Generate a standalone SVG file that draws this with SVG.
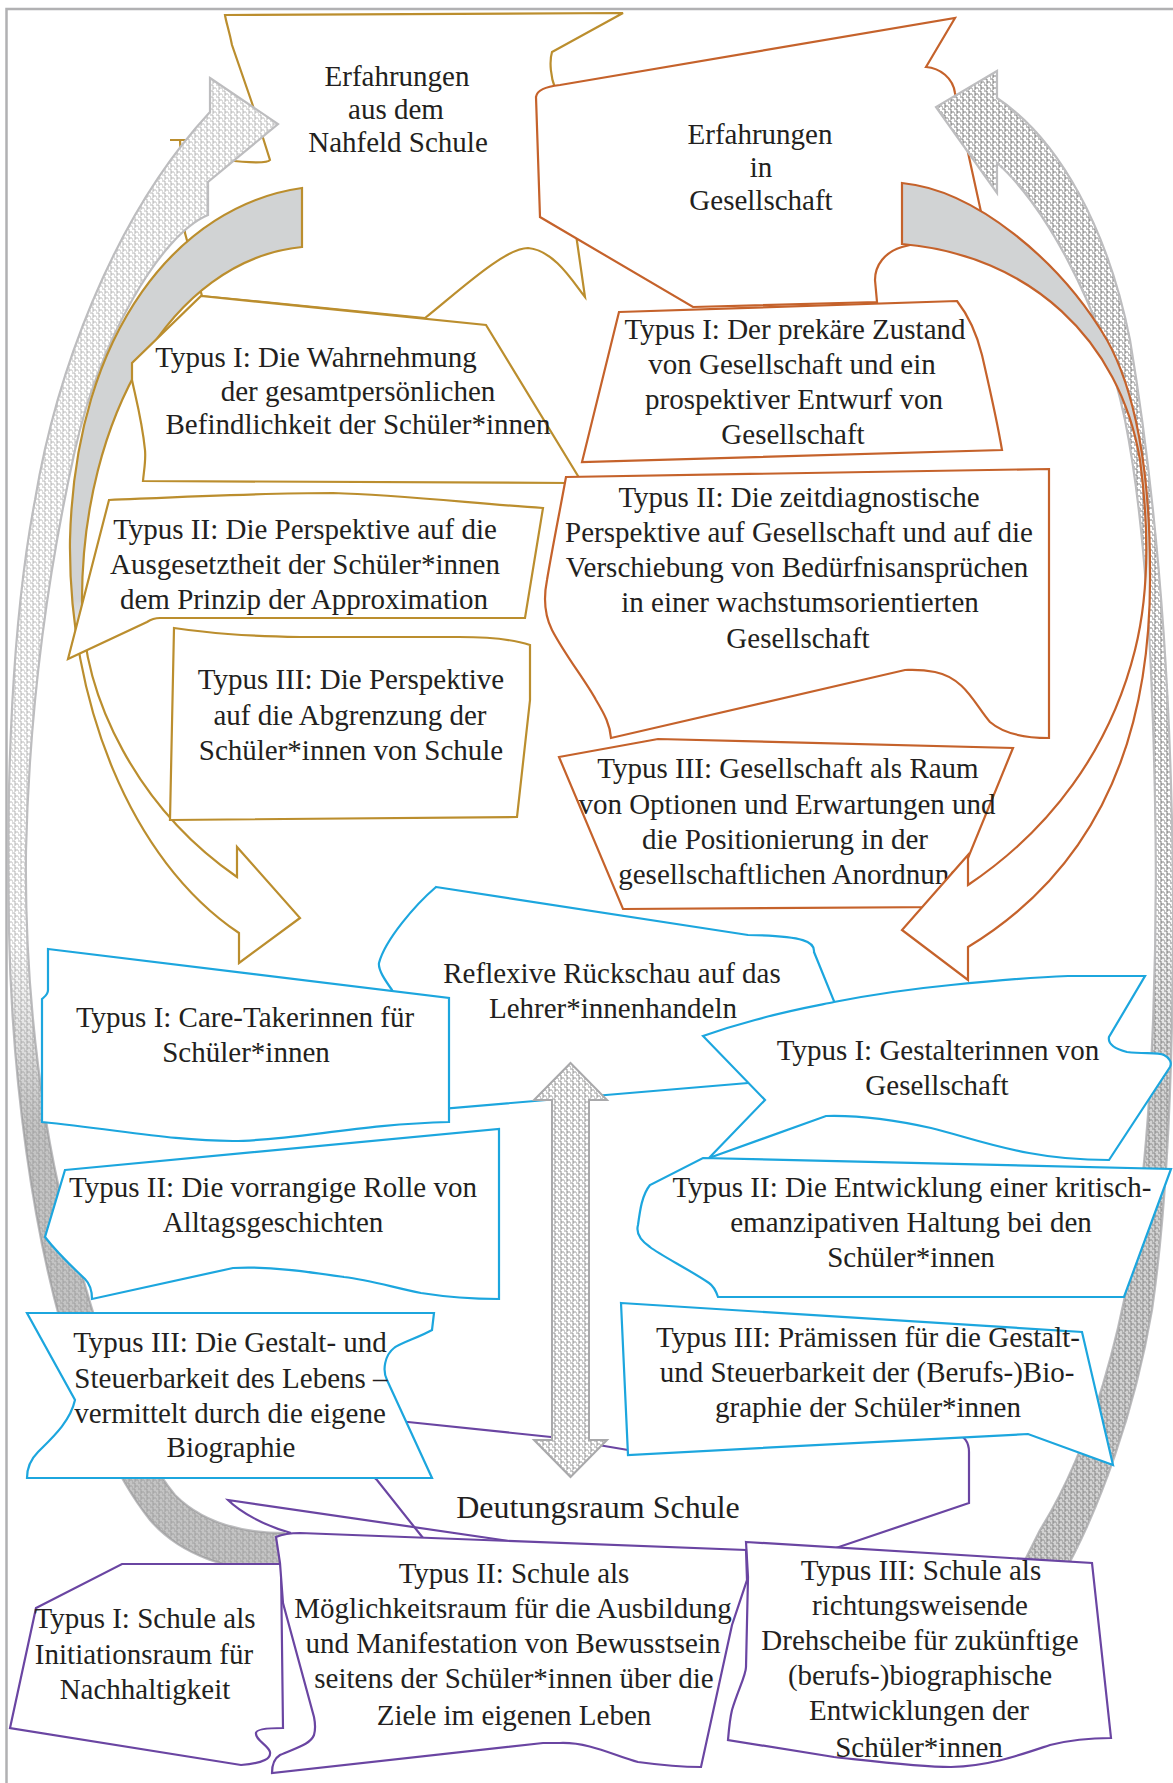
<svg xmlns="http://www.w3.org/2000/svg" width="1173" height="1783" viewBox="0 0 1173 1783">
<style>
.t{font-family:"Liberation Serif","Times New Roman",serif;font-size:29px;fill:#231f20;text-anchor:middle}
.big{font-size:32px}
.gold{fill:#fff;stroke:#bb8e2e;stroke-width:2.2;stroke-linejoin:miter}
.orange{fill:#fff;stroke:#c5622b;stroke-width:2.2}
.blue{fill:#fff;stroke:#1ca6de;stroke-width:2.2}
.purple{fill:#fff;stroke:#6a45a2;stroke-width:2.2}
.pat{stroke:#bdbdbf;stroke-width:2.2}
</style>
<defs>
<pattern id="patL" width="6" height="6" patternUnits="userSpaceOnUse"><rect width="6" height="6" fill="#fff"/><path d="M0,1H3V4H6M0,4V6M3,4V6" stroke="#b0b0b0" stroke-width="0.9" fill="none"/></pattern>
<pattern id="patR" width="6" height="6" patternUnits="userSpaceOnUse"><rect width="6" height="6" fill="#fff"/><path d="M0,1H3V4H6M0,4V6M3,4V6" stroke="#6e6e6e" stroke-width="0.9" fill="none"/></pattern>
<pattern id="patC" width="6" height="6" patternUnits="userSpaceOnUse"><rect width="6" height="6" fill="#fff"/><path d="M0,1H3V4H6M0,4V6M3,4V6" stroke="#8a8a8a" stroke-width="0.9" fill="none"/></pattern>
<linearGradient id="shL" gradientUnits="userSpaceOnUse" x1="0" y1="78" x2="0" y2="1575"><stop offset="0" stop-color="#888" stop-opacity="0"/><stop offset="0.58" stop-color="#888" stop-opacity="0"/><stop offset="0.7" stop-color="#888" stop-opacity="0.5"/><stop offset="1" stop-color="#888" stop-opacity="0.5"/></linearGradient>
<linearGradient id="shR" gradientUnits="userSpaceOnUse" x1="0" y1="71" x2="0" y2="1580"><stop offset="0" stop-color="#999" stop-opacity="0"/><stop offset="0.55" stop-color="#999" stop-opacity="0"/><stop offset="0.68" stop-color="#999" stop-opacity="0.45"/><stop offset="1" stop-color="#999" stop-opacity="0.45"/></linearGradient>
<linearGradient id="gG" gradientUnits="userSpaceOnUse" x1="0" y1="188" x2="0" y2="963"><stop offset="0" stop-color="#d1d3d4"/><stop offset="0.53" stop-color="#d1d3d4"/><stop offset="0.6" stop-color="#fff"/></linearGradient>
<linearGradient id="gO" gradientUnits="userSpaceOnUse" x1="0" y1="183" x2="0" y2="980"><stop offset="0" stop-color="#d1d3d4"/><stop offset="0.45" stop-color="#d1d3d4"/><stop offset="0.52" stop-color="#fff"/></linearGradient>
</defs>
<rect width="1173" height="1783" fill="#fff"/>
<rect id="frame" x="6.5" y="9" width="1200" height="1800" fill="none" stroke="#b1b1b3" stroke-width="2.5"/>

<g id="node-nahfeld">
<path class="gold" d="M225,15 L623,13 L552,52 C549,62 551,78 555,88 L585,297 C575,285 555,250 528,248 C505,248 460,290 425,318 L202,296 L185,233 L180,140 L170,140 L200,140 L225,160 C250,163 268,163 270,160 L252,103 L232,45 C229,30 226,22 225,15 Z"/>
<text class="t" x="397" y="86">Erfahrungen</text>
<text class="t" x="396" y="119">aus dem</text>
<text class="t" x="398" y="152">Nahfeld Schule</text>
</g>
<g id="node-gesellschaft">
<path class="orange" d="M536,97 C537,90 545,87 560,85 L955,18 L926,67 C940,68 953,78 955,93 L985,230 L930,240 L902,247 C885,252 875,265 875,280 L877,302 L693,307 L540,217 Z"/>
<text class="t" x="760" y="144">Erfahrungen</text>
<text class="t" x="761" y="177">in</text>
<text class="t" x="761" y="210">Gesellschaft</text>
</g>
<g id="node-o3">
<path class="orange" d="M559,757 L658,739 L1013,748 L948,907 L623,909 Z"/>
<text class="t" x="788" y="778">Typus III: Gesellschaft als Raum</text>
<text class="t" x="787" y="814">von Optionen und Erwartungen und</text>
<text class="t" x="785" y="849">die Positionierung in der</text>
<text class="t" x="791" y="884">gesellschaftlichen Anordnung</text>
</g>
<g id="node-deutungsraum">
<path class="purple" d="M300,1415 L408,1422 L551,1437 L628,1450 L955,1434 C964,1435 969,1442 969,1452 L969,1503 L830,1550 L600,1560 L423,1545 L423,1538 L377,1480 Z"/>
<path d="M291,1533 C265,1526 240,1512 228,1500 L509,1541" fill="none" stroke="#6a45a2" stroke-width="2.2"/>
<text class="t big" x="598" y="1518">Deutungsraum Schule</text>
</g>
<g id="node-b0">
<path class="blue" d="M436,887 L748,935 C805,936 815,942 814,952 L836,1006 L850,1050 L760,1082 L440,1109 L400,1050 L392,990 C385,980 378,970 379,963 C385,940 415,905 436,887 Z"/>
<text class="t" x="612" y="983">Reflexive Rückschau auf das</text>
<text class="t" x="613" y="1018">Lehrer*innenhandeln</text>
</g>

<g id="connectors">
<path fill="url(#patL)" class="pat" d="M210,78 L278,124 L208,182 L208,215 C160,235 100,340 75,450 C55,540 30,680 26,850 C24,1000 45,1150 75,1250 C100,1340 130,1440 175,1495 C205,1525 245,1533 285,1533 L285,1572 C230,1572 180,1555 150,1520 C110,1470 80,1390 60,1320 C35,1230 12,1090 9,930 C6,780 12,620 35,500 C55,380 110,220 210,112 Z"/>
<path fill="url(#shL)" d="M210,78 L278,124 L208,182 L208,215 C160,235 100,340 75,450 C55,540 30,680 26,850 C24,1000 45,1150 75,1250 C100,1340 130,1440 175,1495 C205,1525 245,1533 285,1533 L285,1572 C230,1572 180,1555 150,1520 C110,1470 80,1390 60,1320 C35,1230 12,1090 9,930 C6,780 12,620 35,500 C55,380 110,220 210,112 Z"/>
<path fill="url(#patR)" class="pat" d="M997,71 L936,107 L997,193 L997,163 C1040,200 1100,300 1125,420 C1145,520 1152,650 1155,800 C1158,950 1152,1100 1140,1200 C1125,1330 1090,1450 1040,1530 L1015,1580 L1060,1580 C1100,1510 1135,1410 1152,1310 C1168,1200 1173,1060 1173,920 C1173,720 1160,520 1130,340 C1108,230 1060,140 997,98 Z"/>
<path fill="url(#shR)" d="M997,71 L936,107 L997,193 L997,163 C1040,200 1100,300 1125,420 C1145,520 1152,650 1155,800 C1158,950 1152,1100 1140,1200 C1125,1330 1090,1450 1040,1530 L1015,1580 L1060,1580 C1100,1510 1135,1410 1152,1310 C1168,1200 1173,1060 1173,920 C1173,720 1160,520 1130,340 C1108,230 1060,140 997,98 Z"/>
<path fill="url(#gG)" stroke="#bb8e2e" stroke-width="2.2" d="M302,188 C180,205 75,330 70,540 C68,700 130,860 239,933 L239,963 L300,918 L237,847 L237,877 C140,810 82,700 82,600 C82,420 170,260 302,247 Z"/>
<path fill="url(#gO)" stroke="#c5622b" stroke-width="2.2" d="M902,183 C975,190 1060,260 1107,340 C1135,390 1150,470 1150,570 C1152,740 1095,870 968,947 L968,980 L902,930 L968,855 L968,885 C1050,830 1110,750 1135,650 C1150,590 1148,520 1140,460 C1120,340 1030,255 902,244 Z"/>
<path fill="url(#patC)" stroke="#a9a9ab" stroke-width="2" d="M570.5,1063 L607,1100 L589,1100 L589,1440 L607,1440 L570.5,1477 L534,1440 L552,1440 L552,1100 L534,1100 Z"/>
</g>

<g id="node-g1">
<path class="gold" d="M201,296 L486,325 L578,476 L570,483 L143,481 C144,470 146,460 145,450 C142,420 135,395 132,380 L132,363 Z"/>
<text class="t" x="316" y="367">Typus I: Die Wahrnehmung</text>
<text class="t" x="358" y="401">der gesamtpersönlichen</text>
<text class="t" x="358" y="434">Befindlichkeit der Schüler*innen</text>
</g>
<g id="node-g2">
<path class="gold" d="M109,500 C180,497 260,493 333,493 C400,495 470,503 543,508 L525,618 L160,618 C155,618 150,620 147,622 L68,659 Z"/>
<text class="t" x="305" y="539">Typus II: Die Perspektive auf die</text>
<text class="t" x="305" y="574">Ausgesetztheit der Schüler*innen</text>
<text class="t" x="304" y="609">dem Prinzip der Approximation</text>
</g>
<g id="node-g3">
<path class="gold" d="M174,628 C210,633 240,636 300,637 L459,637 C490,637 515,640 530,645 L530,700 L517,817 L170,820 Z"/>
<text class="t" x="351" y="689">Typus III: Die Perspektive</text>
<text class="t" x="350" y="725">auf die Abgrenzung der</text>
<text class="t" x="351" y="760">Schüler*innen von Schule</text>
</g>
<g id="node-o1">
<path class="orange" d="M619,312 L957,301 C968,315 977,335 982,355 C990,390 997,420 1002,450 L582,462 Z"/>
<text class="t" x="795" y="339">Typus I: Der prekäre Zustand</text>
<text class="t" x="792" y="374">von Gesellschaft und ein</text>
<text class="t" x="794" y="409">prospektiver Entwurf von</text>
<text class="t" x="793" y="444">Gesellschaft</text>
</g>
<g id="node-o2">
<path class="orange" d="M566,477 L1049,469 L1049,738 C1030,738 1005,735 990,722 C975,705 965,678 935,672 C920,669 910,670 905,670 L611,738 C610,725 605,715 596,700 C585,680 565,655 552,630 C543,612 544,595 547,580 C552,550 560,510 566,477 Z"/>
<text class="t" x="799" y="507">Typus II: Die zeitdiagnostische</text>
<text class="t" x="799" y="542">Perspektive auf Gesellschaft und auf die</text>
<text class="t" x="797" y="577">Verschiebung von Bedürfnisansprüchen</text>
<text class="t" x="800" y="612">in einer wachstumsorientierten</text>
<text class="t" x="798" y="648">Gesellschaft</text>
</g>
<g id="node-b1">
<path class="blue" d="M48,949 L449,998 L449,1122 C360,1124 290,1141 233,1141 C175,1141 120,1130 42,1122 L42,999 C44,997 48,995 48,990 Z"/>
<text class="t" x="245" y="1027">Typus I: Care-Takerinnen für</text>
<text class="t" x="246" y="1062">Schüler*innen</text>
</g>
<g id="node-b2">
<path class="blue" d="M65,1170 L499,1129 L499,1299 C470,1299 440,1296 421,1293 C395,1288 370,1280 344,1277 C310,1272 270,1266 233,1268 L92,1299 C92,1290 90,1284 85,1279 C70,1265 55,1250 45,1237 Z"/>
<text class="t" x="273" y="1197">Typus II: Die vorrangige Rolle von</text>
<text class="t" x="273" y="1232">Alltagsgeschichten</text>
</g>
<g id="node-b3">
<path class="blue" d="M27,1313 L434,1313 L432,1330 C420,1337 400,1343 394,1348 C385,1355 382,1370 387,1380 L432,1478 L27,1478 C27,1468 30,1460 38,1452 C52,1438 70,1422 75,1400 Z"/>
<text class="t" x="230" y="1352">Typus III: Die Gestalt- und</text>
<text class="t" x="231" y="1388">Steuerbarkeit des Lebens –</text>
<text class="t" x="230" y="1423">vermittelt durch die eigene</text>
<text class="t" x="231" y="1457">Biographie</text>
</g>
<g id="node-br1">
<path class="blue" d="M703,1036 C720,1030 740,1024 755,1020 C790,1010 820,1005 834,1002 C880,993 920,988 951,985 C1000,980 1040,977 1068,976 L1145,976 L1109,1037 C1108,1042 1112,1048 1127,1052 C1145,1054 1158,1052 1164,1055 C1170,1058 1172,1063 1170,1067 L1109,1160 C1080,1160 1050,1157 1029,1153 C990,1146 960,1135 931,1128 C895,1120 860,1115 826,1116 L709,1158 L765,1100 Z"/>
<text class="t" x="938" y="1060">Typus I: Gestalterinnen von</text>
<text class="t" x="937" y="1095">Gesellschaft</text>
</g>
<g id="node-br2">
<path class="blue" d="M703,1158 L1171,1169 L1124,1297 L718,1297 C715,1288 712,1285 709,1283 C690,1270 660,1255 650,1247 C640,1240 636,1232 638,1225 C640,1210 642,1195 650,1185 Z"/>
<text class="t" x="912" y="1197">Typus II: Die Entwicklung einer kritisch-</text>
<text class="t" x="911" y="1232">emanzipativen Haltung bei den</text>
<text class="t" x="911" y="1267">Schüler*innen</text>
</g>
<g id="node-br3">
<path class="blue" d="M621,1303 L1082,1332 L1113,1465 L1028,1434 L628,1455 Z"/>
<text class="t" x="868" y="1347">Typus III: Prämissen für die Gestalt-</text>
<text class="t" x="867" y="1382">und Steuerbarkeit der (Berufs-)Bio-</text>
<text class="t" x="868" y="1417">graphie der Schüler*innen</text>
</g>
<g id="node-pt1">
<path class="purple" d="M122,1564 L281,1564 L283,1728 C270,1728 256,1729 256,1733 C255,1740 268,1745 270,1752 C271,1758 265,1763 241,1765 L10,1728 L36,1608 Z"/>
<text class="t" x="145" y="1628">Typus I: Schule als</text>
<text class="t" x="144" y="1664">Initiationsraum für</text>
<text class="t" x="145" y="1699">Nachhaltigkeit</text>
</g>
<g id="node-pt3">
<path class="purple" d="M746,1542 L1092,1563 L1111,1738 C1090,1738 1070,1740 1050,1745 C1020,1755 990,1766 951,1767 C920,1767 880,1762 834,1757 L728,1740 C729,1728 730,1718 732,1710 C738,1690 746,1675 746,1667 L748,1577 Z"/>
<text class="t" x="921" y="1580">Typus III: Schule als</text>
<text class="t" x="920" y="1615">richtungsweisende</text>
<text class="t" x="920" y="1650">Drehscheibe für zukünftige</text>
<text class="t" x="920" y="1685">(berufs-)biographische</text>
<text class="t" x="919" y="1720">Entwicklungen der</text>
<text class="t" x="919" y="1757">Schüler*innen</text>
</g>
<g id="node-pt2">
<path class="purple" d="M276,1537 C283,1534 290,1533 300,1533 L746,1550 L747,1580 L732,1625 L701,1767 C680,1767 660,1765 638,1762 C615,1756 590,1742 560,1743 L543,1743 L272,1773 C272,1765 275,1758 280,1755 C295,1748 310,1745 314,1735 C316,1728 315,1722 314,1717 L283,1603 L280,1563 Z"/>
<text class="t" x="514" y="1583">Typus II: Schule als</text>
<text class="t" x="513" y="1618">Möglichkeitsraum für die Ausbildung</text>
<text class="t" x="513" y="1653">und Manifestation von Bewusstsein</text>
<text class="t" x="514" y="1688">seitens der Schüler*innen über die</text>
<text class="t" x="514" y="1725">Ziele im eigenen Leben</text>
</g>
</svg>
